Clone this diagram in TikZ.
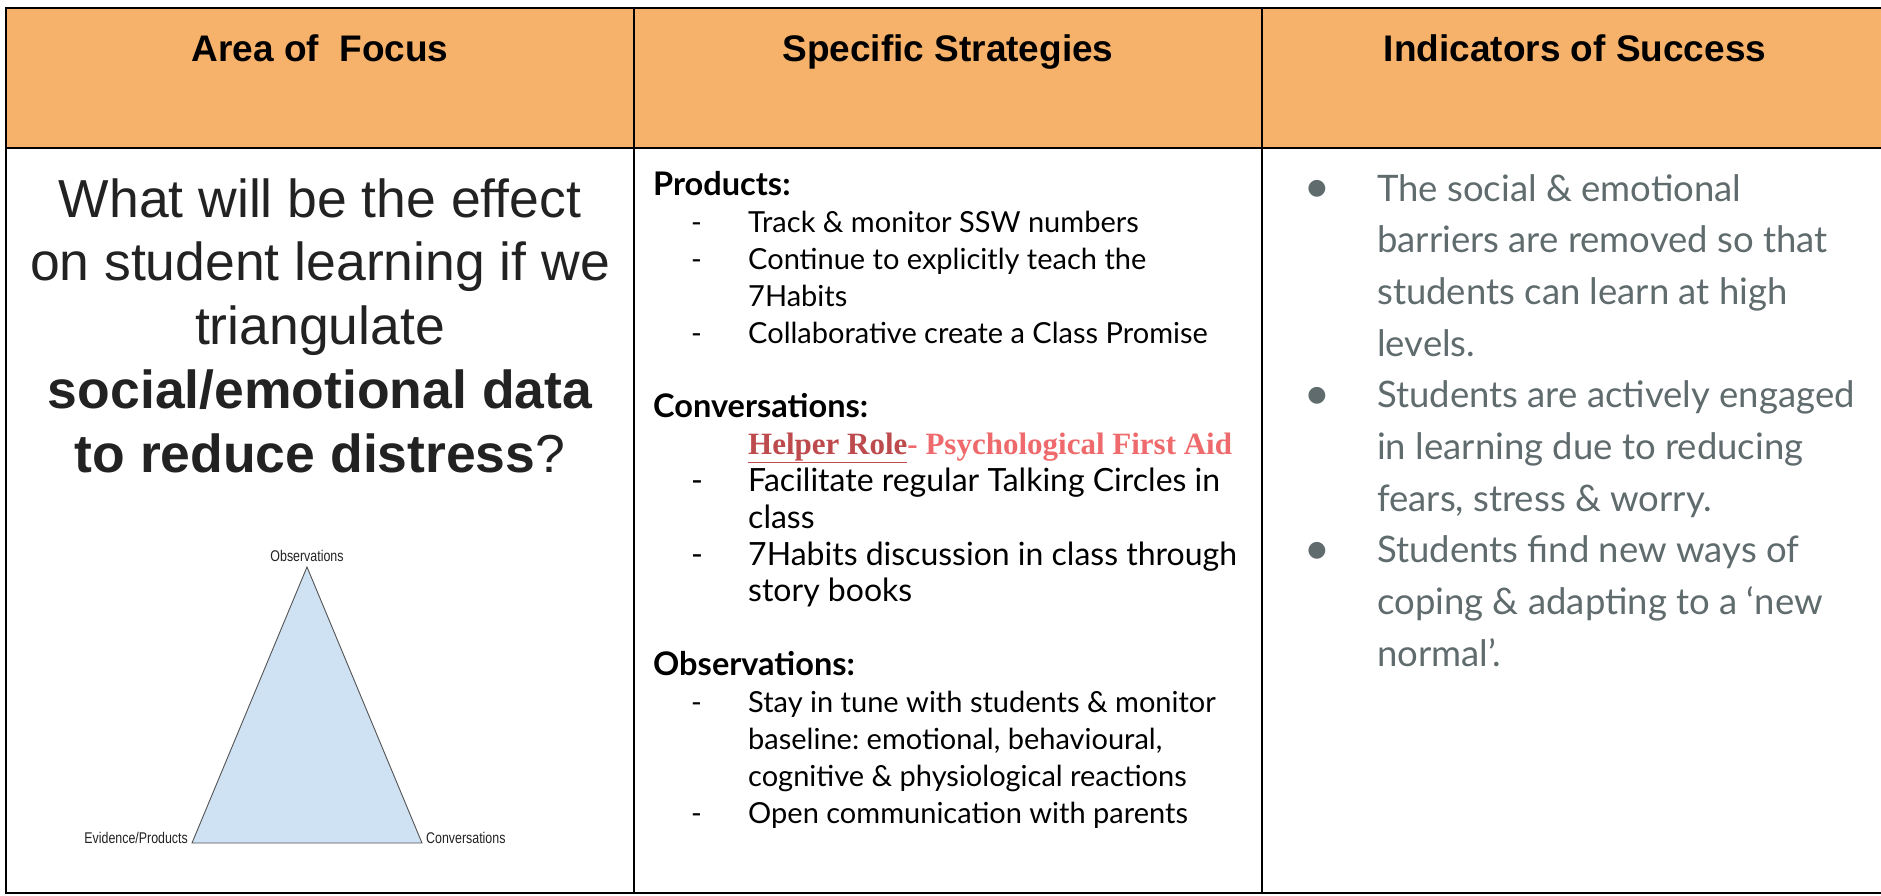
\documentclass[tikz,border=0pt]{standalone}
\usepackage{fontspec}
\setmainfont{Liberation Sans}
\newfontfamily\arialf{Liberation Sans}
\newfontfamily\latof{Lato}
\newfontfamily\pfont{Liberation Serif}
\newfontfamily\narrowf[FakeStretch=0.8]{Liberation Sans}
\newfontfamily\symf{DejaVu Sans}
\definecolor{hdr}{HTML}{F6B26B}
\definecolor{qcol}{HTML}{222222}
\definecolor{gcol}{HTML}{5F6B6D}
\definecolor{tribg}{HTML}{CFE2F3}
\definecolor{tristroke}{HTML}{555555}
\definecolor{hred}{HTML}{BD4A4C}
\definecolor{pred}{HTML}{EF6A6C}
\frenchspacing
\begin{document}
\begin{tikzpicture}[x=1pt,y=-1pt,
  grid/.style={draw=black,line width=2.2pt},
  hdrtext/.style={font=\arialf\bfseries\fontsize{37}{40}\selectfont,anchor=base,inner sep=0},
  qline/.style={font=\arialf\fontsize{53.5}{60}\selectfont,anchor=base,inner sep=0,text=qcol},
  trilabel/.style={font=\narrowf\fontsize{15.5}{17}\selectfont,inner sep=0,text=qcol},
  midtext/.style={font=\latof\fontsize{29}{34}\selectfont,anchor=base west,inner sep=0},
  midbig/.style={font=\latof\fontsize{32}{36}\selectfont,anchor=base west,inner sep=0},
  midhead/.style={font=\latof\bfseries\fontsize{32.5}{36}\selectfont,anchor=base west,inner sep=0},
  rtext/.style={font=\latof\fontsize{36.5}{42}\selectfont,anchor=base west,inner sep=0,text=gcol},
  rbullet/.style={font=\symf\fontsize{22}{24}\selectfont,anchor=center,inner sep=0,text=gcol}]
\useasboundingbox (0,0) rectangle (1881,896);
\clip (0,0) rectangle (1881,896);
% table
\fill[white] (0,0) rectangle (1881,896);
\fill[hdr] (6,8) rectangle (1895,148);
\draw[grid] (6,8) rectangle (1895,893);
\draw[grid] (6,148) -- (1895,148);
\draw[grid] (634,8) -- (634,893);
\draw[grid] (1262,8) -- (1262,893);
% headers
\node[hdrtext] (h1) at (320,62) {Area of\ \ Focus};
\node[hdrtext] (h2) at (948,62) {Specific Strategies};
\node[hdrtext] (h3) at (1575,62) {Indicators of Success};
% question
\node[qline] (q1) at (320,217) {What will be the effect};
\node[qline] (q2) at (320,280.5) {on student learning if we};
\node[qline] (q3) at (320,344) {triangulate};
\node[qline] (q4) at (320,408) {\bfseries social/emotional data};
\node[qline] (q5) at (320,472) {\bfseries to reduce distress\mdseries ?};
% triangle
\coordinate (apex) at (307,567);
\coordinate (bl) at (192,843);
\coordinate (br) at (422,843);
\draw[fill=tribg,draw=tristroke,line width=0.9pt,line join=miter] (apex) -- (bl) -- (br) -- cycle;
\node[trilabel,anchor=base] (tobs) at (307,561) {Observations};
\node[trilabel,anchor=base east] (tevi) at (188,843) {Evidence/Products};
\node[trilabel,anchor=base west] (tcon) at (426,843) {Conversations};
% middle column
\node[midhead] (m0) at (653,196) {Products:};
\node[midtext] (d1) at (691,232.9) {-};
\node[midtext] (m1) at (748,232.9) {Track \& monitor SSW numbers};
\node[midtext] (d2) at (691,269.8) {-};
\node[midtext] (m2) at (748,269.8) {Continue to explicitly teach the};
\node[midtext] (m3) at (748,306.7) {7Habits};
\node[midtext] (d4) at (691,343.6) {-};
\node[midtext] (m4) at (748,343.6) {Collaborative create a Class Promise};
\node[midhead] (m6) at (653,417.4) {Conversations:};
\node[midtext,font=\pfont\bfseries\fontsize{31}{34}\selectfont] (m7) at (748,454.3) {\textcolor{hred}{\underline{Helper Role}}\textcolor{pred}{- Psychological First Aid}};
\node[midbig] (d8) at (691,491.2) {-};
\node[midbig] (m8) at (748,491.2) {Facilitate regular Talking Circles in};
\node[midbig] (m9) at (748,528.1) {class};
\node[midbig] (d10) at (691,565) {-};
\node[midbig] (m10) at (748,565) {7Habits discussion in class through};
\node[midbig] (m11) at (748,601.9) {story books};
\node[midhead] (m13) at (653,675.7) {Observations:};
\node[midtext] (d14) at (691,712.6) {-};
\node[midtext] (m14) at (748,712.6) {Stay in tune with students \& monitor};
\node[midtext] (m15) at (748,749.5) {baseline: emotional, behavioural,};
\node[midtext] (m16) at (748,786.4) {cognitive \& physiological reactions};
\node[midtext] (d17) at (691,823.3) {-};
\node[midtext] (m17) at (748,823.3) {Open communication with parents};
% right column
\node[rbullet] (b0) at (1317,189) {●};
\node[rtext] (r0) at (1377,201) {The social \& emotional};
\node[rtext] (r1) at (1377,252.7) {barriers are removed so that};
\node[rtext] (r2) at (1377,304.4) {students can learn at high};
\node[rtext] (r3) at (1377,356.1) {levels.};
\node[rbullet] (b4) at (1317,395.8) {●};
\node[rtext] (r4) at (1377,407.8) {Students are actively engaged};
\node[rtext] (r5) at (1377,459.5) {in learning due to reducing};
\node[rtext] (r6) at (1377,511.2) {fears, stress \& worry.};
\node[rbullet] (b7) at (1317,550.9) {●};
\node[rtext] (r7) at (1377,562.9) {Students find new ways of};
\node[rtext] (r8) at (1377,614.6) {coping \& adapting to a ‘new};
\node[rtext] (r9) at (1377,666.3) {normal’.};
\end{tikzpicture}
\end{document}
